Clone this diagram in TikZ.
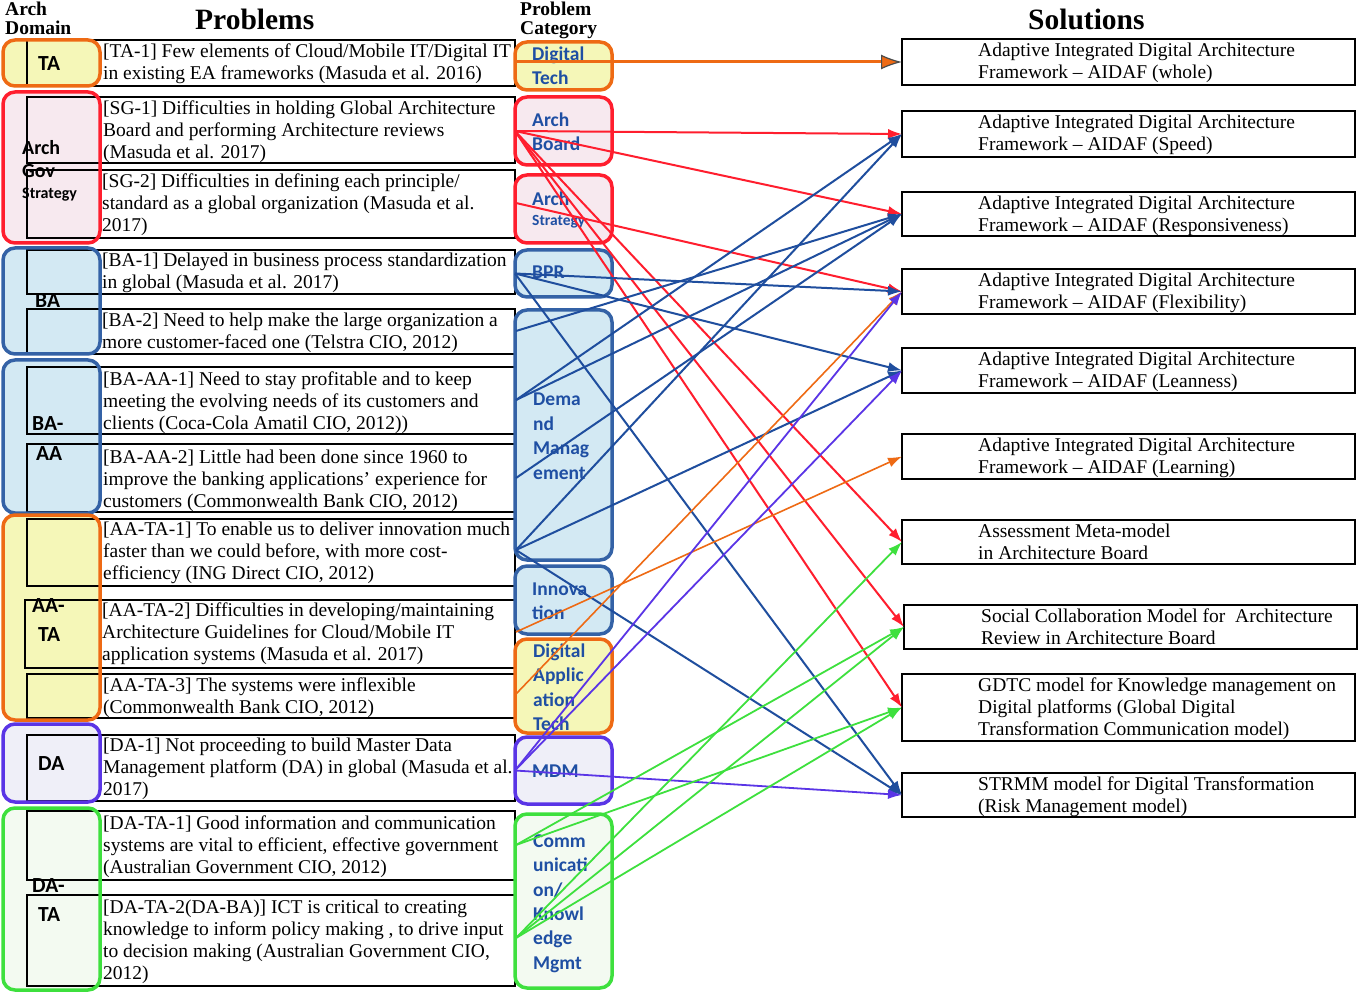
\documentclass[tikz,border=0pt]{standalone}
\usepackage{fontspec}
\setmainfont{Liberation Serif}
\newfontfamily\calib{Carlito}
\usetikzlibrary{arrows.meta}
\definecolor{cOrange}{HTML}{EE6A14}
\definecolor{cRed}{HTML}{FF1E2E}
\definecolor{cBlueB}{HTML}{3462A6}
\definecolor{cBlueL}{HTML}{1F4E9E}
\definecolor{cLBlue}{HTML}{D3E9F3}
\definecolor{cYellow}{HTML}{F5F7B8}
\definecolor{cPink}{HTML}{F7E9EF}
\definecolor{cPurple}{HTML}{5A35E6}
\definecolor{cLav}{HTML}{EFEFF8}
\definecolor{cGreen}{HTML}{3EE03E}
\definecolor{cLGreen}{HTML}{F3FAF1}
\definecolor{cTxtBlue}{HTML}{1F4FA3}
\tikzset{
  dom/.style={rounded corners=12pt, inner sep=0pt, outer sep=0pt, anchor=north west, minimum width=97pt},
  probbox/.style={draw=black, line width=1.8pt, inner sep=0pt, outer sep=0pt, anchor=north west, minimum width=488pt},
  catbox/.style={rounded corners=12pt, line width=3.5pt, inner sep=0pt, outer sep=0pt, anchor=north west, minimum width=97pt},
  solbox/.style={draw=black, line width=2.2pt, inner sep=0pt, outer sep=0pt, anchor=north west, minimum width=453pt},
  ptxt/.style={anchor=base west, inner sep=0pt, font=\fontsize{19.5}{22}\selectfont},
  ctxt/.style={anchor=base west, inner sep=0pt, text=cTxtBlue, font=\calib\bfseries\fontsize{19.5}{24}\selectfont},
  dtxt/.style={anchor=base west, inner sep=0pt, font=\calib\bfseries\fontsize{21.5}{24}\selectfont},
  htxt/.style={anchor=base west, inner sep=0pt, font=\bfseries\fontsize{19.5}{20}\selectfont},
  bigh/.style={anchor=base west, inner sep=0pt, font=\bfseries\fontsize{29.5}{30}\selectfont},
  conn/.style={line width=2pt, -{Latex[length=14pt,width=10pt]}},
  cred/.style={conn, draw=cRed, fill=cRed},
  cblue/.style={conn, draw=cBlueL, fill=cBlueL},
  corange/.style={conn, line width=1.6pt, draw=cOrange, fill=cOrange},
  cpurple/.style={conn, line width=1.8pt, draw=cPurple, fill=cPurple},
  cgreen/.style={conn, line width=1.8pt, draw=cGreen, fill=cGreen},
}
\begin{document}
\begin{tikzpicture}[x=1pt,y=-1pt]
\useasboundingbox (0,0) rectangle (1358,992);
\fill[white] (0,0) rectangle (1358,992);

% headers
\node[htxt] (hA1) at (5,16) {Arch};
\node[htxt] (hA2) at (5,35) {Domain};
\node[bigh] (hP) at (195,30) {Problems};
\node[htxt] (hC1) at (520,16) {Problem};
\node[htxt] (hC2) at (520,35) {Category};
\node[bigh] (hS) at (1028,30) {Solutions};

% arch domain fills
\node[dom, fill=cYellow, minimum height=46pt] (dTA) at (3,40) {};
\node[dom, fill=cPink, minimum height=151pt] (dSG) at (3,92) {};
\node[dom, fill=cLBlue, minimum height=106pt] (dBA) at (3,248) {};
\node[dom, fill=cLBlue, minimum height=153pt] (dBAAA) at (3,360) {};
\node[dom, fill=cYellow, minimum height=205pt] (dAATA) at (3,515) {};
\node[dom, fill=cLav, minimum height=78pt] (dDA) at (3,724) {};
\node[dom, fill=cLGreen, minimum height=182pt] (dDATA) at (3,808) {};

% problem rectangles
\node[probbox, minimum height=46pt] (p1) at (27,40) {};
\node[probbox, minimum height=66pt] (p2) at (27,97) {};
\node[probbox, minimum height=68pt] (p3) at (27,170) {};
\node[probbox, minimum height=44pt] (p4) at (27,250) {};
\node[probbox, minimum height=45pt] (p5) at (27,309) {};
\node[probbox, minimum height=67pt] (p6) at (27,367) {};
\node[probbox, minimum height=68pt] (p7) at (27,444) {};
\node[probbox, minimum height=67pt] (p8) at (27,519) {};
\node[probbox, minimum height=68pt, minimum width=490pt] (p9) at (25,600) {};
\node[probbox, minimum height=44pt] (p10) at (27,674) {};
\node[probbox, minimum height=66pt] (p11) at (27,735) {};
\node[probbox, minimum height=69pt] (p12) at (27,811) {};
\node[probbox, minimum height=91pt] (p13) at (27,895) {};

% arch domain borders
\draw[rounded corners=12pt, line width=3.5pt, cOrange] (dTA.north west) rectangle (dTA.south east);
\draw[rounded corners=12pt, line width=3.5pt, cRed] (dSG.north west) rectangle (dSG.south east);
\draw[rounded corners=12pt, line width=3.5pt, cBlueB] (dBA.north west) rectangle (dBA.south east);
\draw[rounded corners=12pt, line width=3.5pt, cBlueB] (dBAAA.north west) rectangle (dBAAA.south east);
\draw[rounded corners=12pt, line width=3.5pt, cOrange] (dAATA.north west) rectangle (dAATA.south east);
\draw[rounded corners=12pt, line width=3.5pt, cPurple] (dDA.north west) rectangle (dDA.south east);
\draw[rounded corners=12pt, line width=3.5pt, cGreen] (dDATA.north west) rectangle (dDATA.south east);

% arch domain labels
\node[dtxt] (lTA) at (38,71) {TA};
\node[dtxt, font=\calib\bfseries\fontsize{20}{24}\selectfont] (lSG1) at (22,155) {Arch};
\node[dtxt, font=\calib\bfseries\fontsize{20}{24}\selectfont] (lSG2) at (22,178) {Gov};
\node[dtxt, font=\calib\bfseries\fontsize{16}{20}\selectfont] (lSG3) at (22,199) {Strategy};
\node[dtxt] (lBA) at (35,308) {BA};
\node[dtxt] (lBAAA1) at (32,430) {BA-};
\node[dtxt] (lBAAA2) at (36,460) {AA};
\node[dtxt] (lAATA1) at (32,612) {AA-};
\node[dtxt] (lAATA2) at (38,641) {TA};
\node[dtxt] (lDA) at (38,770) {DA};
\node[dtxt] (lDATA1) at (32,892) {DA-};
\node[dtxt] (lDATA2) at (38,921) {TA};

% problem texts
\node[ptxt] (t1a) at (103,57.5) {[TA-1] Few elements of Cloud/Mobile IT/Digital IT};
\node[ptxt] (t1b) at (103,79.5) {in existing EA frameworks (Masuda et al. 2016)};
\node[ptxt] (t2a) at (103,114.5) {[SG-1] Difficulties in holding Global Architecture};
\node[ptxt] (t2b) at (103,136.5) {Board and performing Architecture reviews};
\node[ptxt] (t2c) at (103,158.5) {(Masuda et al. 2017)};
\node[ptxt] (t3a) at (102,187.5) {[SG-2] Difficulties in defining each principle/};
\node[ptxt] (t3b) at (102,209.5) {standard as a global organization (Masuda et al.};
\node[ptxt] (t3c) at (102,231.5) {2017)};
\node[ptxt] (t4a) at (102,266.5) {[BA-1] Delayed in business process standardization};
\node[ptxt] (t4b) at (102,288.5) {in global (Masuda et al. 2017)};
\node[ptxt] (t5a) at (102,326.5) {[BA-2] Need to help make the large organization a};
\node[ptxt] (t5b) at (102,348.5) {more customer-faced one (Telstra CIO, 2012)};
\node[ptxt] (t6a) at (103,385.5) {[BA-AA-1] Need to stay profitable and to keep};
\node[ptxt] (t6b) at (103,407.5) {meeting the evolving needs of its customers and};
\node[ptxt] (t6c) at (103,429.5) {clients (Coca-Cola Amatil CIO, 2012))};
\node[ptxt] (t7a) at (103,463.5) {[BA-AA-2] Little had been done since 1960 to};
\node[ptxt] (t7b) at (103,485.5) {improve the banking applications' experience for};
\node[ptxt] (t7c) at (103,507.5) {customers (Commonwealth Bank CIO, 2012)};
\node[ptxt] (t8a) at (103,535.5) {[AA-TA-1] To enable us to deliver innovation much};
\node[ptxt] (t8b) at (103,557.5) {faster than we could before, with more cost-};
\node[ptxt] (t8c) at (103,579.5) {efficiency (ING Direct CIO, 2012)};
\node[ptxt] (t9a) at (102,616.5) {[AA-TA-2] Difficulties in developing/maintaining};
\node[ptxt] (t9b) at (102,638.5) {Architecture Guidelines for Cloud/Mobile IT};
\node[ptxt] (t9c) at (102,660.5) {application systems (Masuda et al. 2017)};
\node[ptxt] (t10a) at (103,691.5) {[AA-TA-3] The systems were inflexible};
\node[ptxt] (t10b) at (103,713.5) {(Commonwealth Bank CIO, 2012)};
\node[ptxt] (t11a) at (103,751.5) {[DA-1] Not proceeding to build Master Data};
\node[ptxt] (t11b) at (103,773.5) {Management platform (DA) in global (Masuda et al.};
\node[ptxt] (t11c) at (103,795.5) {2017)};
\node[ptxt] (t12a) at (103,829.5) {[DA-TA-1] Good information and communication};
\node[ptxt] (t12b) at (103,851.5) {systems are vital to efficient, effective government};
\node[ptxt] (t12c) at (103,873.5) {(Australian Government CIO, 2012)};
\node[ptxt] (t13a) at (103,913.5) {[DA-TA-2(DA-BA)] ICT is critical to creating};
\node[ptxt] (t13b) at (103,935.5) {knowledge to inform policy making , to drive input};
\node[ptxt] (t13c) at (103,957.5) {to decision making (Australian Government CIO,};
\node[ptxt] (t13d) at (103,979.5) {2012)};

% category boxes
\node[catbox, draw=cOrange, fill=cYellow, minimum height=48pt] (cDT) at (515,42) {};
\node[catbox, draw=cRed, fill=cPink, minimum height=68pt] (cAB) at (515,97) {};
\node[catbox, draw=cRed, fill=cPink, minimum height=68pt] (cAS) at (515,175) {};
\node[catbox, draw=cBlueB, fill=cLBlue, minimum height=47pt] (cBPR) at (515,250) {};
\node[catbox, draw=cBlueB, fill=cLBlue, minimum height=250pt] (cDM) at (515,310) {};
\node[catbox, draw=cBlueB, fill=cLBlue, minimum height=68pt] (cIN) at (515,566) {};
\node[catbox, draw=cOrange, fill=cYellow, minimum height=94pt] (cDAT) at (515,639) {};
\node[catbox, draw=cPurple, fill=cLav, minimum height=67pt] (cMDM) at (515,737) {};
\node[catbox, draw=cGreen, fill=cLGreen, minimum height=174pt] (cCK) at (515,814) {};

% category texts
\node[ctxt] (k1a) at (532,61) {Digital};
\node[ctxt] (k1b) at (532,85) {Tech};
\node[ctxt] (k2a) at (532,127) {Arch};
\node[ctxt] (k2b) at (532,151) {Board};
\node[ctxt] (k3a) at (532,206) {Arch};
\node[ctxt, font=\calib\bfseries\fontsize{15.5}{20}\selectfont] (k3b) at (532,226) {Strategy};
\node[ctxt] (k4) at (532,279) {BPR};
\node[ctxt] (k5a) at (533,406) {Dema};
\node[ctxt] (k5b) at (533,430) {nd};
\node[ctxt] (k5c) at (533,454) {Manag};
\node[ctxt] (k5d) at (533,479) {ement};
\node[ctxt] (k6a) at (532,595) {Innova};
\node[ctxt] (k6b) at (532,619) {tion};
\node[ctxt] (k7a) at (533,657) {Digital};
\node[ctxt] (k7b) at (533,681) {Applic};
\node[ctxt] (k7c) at (533,706) {ation};
\node[ctxt] (k7d) at (533,730) {Tech};
\node[ctxt] (k8) at (532,777) {MDM};
\node[ctxt] (k9a) at (533,847) {Comm};
\node[ctxt] (k9b) at (533,871) {unicati};
\node[ctxt] (k9c) at (533,896) {on/};
\node[ctxt] (k9d) at (533,920) {Knowl};
\node[ctxt] (k9e) at (533,944) {edge};
\node[ctxt] (k9f) at (533,969) {Mgmt};

% solution boxes
\node[solbox, minimum height=46pt] (s1) at (902,39) {};
\node[solbox, minimum height=46pt] (s2) at (902,111) {};
\node[solbox, minimum height=44pt] (s3) at (902,192) {};
\node[solbox, minimum height=45pt] (s4) at (902,269) {};
\node[solbox, minimum height=45pt] (s5) at (902,348) {};
\node[solbox, minimum height=45pt] (s6) at (902,434) {};
\node[solbox, minimum height=44pt] (s7) at (902,520) {};
\node[solbox, minimum height=44pt] (s8) at (904,605) {};
\node[solbox, minimum height=67pt] (s9) at (902,674) {};
\node[solbox, minimum height=44pt] (s10) at (902,773) {};

% solution texts
\node[ptxt] (u1a) at (978,56.5) {Adaptive Integrated Digital Architecture};
\node[ptxt] (u1b) at (978,78.5) {Framework -- AIDAF (whole)};
\node[ptxt] (u2a) at (978,128.5) {Adaptive Integrated Digital Architecture};
\node[ptxt] (u2b) at (978,150.5) {Framework -- AIDAF (Speed)};
\node[ptxt] (u3a) at (978,209.5) {Adaptive Integrated Digital Architecture};
\node[ptxt] (u3b) at (978,231.5) {Framework -- AIDAF (Responsiveness)};
\node[ptxt] (u4a) at (978,286.5) {Adaptive Integrated Digital Architecture};
\node[ptxt] (u4b) at (978,308.5) {Framework -- AIDAF (Flexibility)};
\node[ptxt] (u5a) at (978,365.5) {Adaptive Integrated Digital Architecture};
\node[ptxt] (u5b) at (978,387.5) {Framework -- AIDAF (Leanness)};
\node[ptxt] (u6a) at (978,451.5) {Adaptive Integrated Digital Architecture};
\node[ptxt] (u6b) at (978,473.5) {Framework -- AIDAF (Learning)};
\node[ptxt] (u7a) at (978,537.5) {Assessment Meta-model};
\node[ptxt] (u7b) at (978,559.5) {in Architecture Board};
\node[ptxt] (u8a) at (981,622.5) {Social Collaboration Model for\ \ Architecture};
\node[ptxt] (u8b) at (981,644.5) {Review in Architecture Board};
\node[ptxt] (u9a) at (978,691.5) {GDTC model for Knowledge management on};
\node[ptxt] (u9b) at (978,713.5) {Digital platforms (Global Digital};
\node[ptxt] (u9c) at (978,735.5) {Transformation Communication model)};
\node[ptxt] (u10a) at (978,790.5) {STRMM model for Digital Transformation};
\node[ptxt] (u10b) at (978,812.5) {(Risk Management model)};

% connector origins
\coordinate (oAS) at (516,203);
\coordinate (oD1) at (516,331);
\coordinate (oD2) at (516,400);
\coordinate (oD3) at (516,478);
\coordinate (oD4) at (516,550);
\coordinate (oIN) at (516,632);
\coordinate (oDAT) at (516,694);
\coordinate (oC1) at (516,845);
\coordinate (oC2) at (516,938);

% connectors
\draw[line width=3pt, cOrange, -{Latex[length=21pt,width=15pt,line width=1.2pt,fill=cOrange,color=black!70]}] (cDT.west |- s1.west) -- (s1.west);
\foreach \t in {s2,s3,s7,s8,s9} \draw[cred] (cAB.west) -- (\t.west);
\draw[cred] (oAS) -- (s4.west);
\foreach \t in {s4,s5,s10} \draw[cblue] (cBPR.west) -- (\t.west);
\draw[cblue] (oD1) -- (s3.west);
\foreach \t in {s2,s3} \draw[cblue] (oD2) -- (\t.west);
\draw[cblue] (oD3) -- (s3.west);
\foreach \t in {s2,s5,s10} \draw[cblue] (oD4) -- (\t.west);
\draw[corange] (oIN) -- (s6.west);
\draw[corange] (oDAT) -- (s4.west);
\foreach \t in {s10,s4,s5} \draw[cpurple] (cMDM.west) -- (\t.west);
\foreach \t in {s8,s9} \draw[cgreen] (oC1) -- (\t.west);
\foreach \t in {s7,s8,s9} \draw[cgreen] (oC2) -- (\t.west);
\end{tikzpicture}
\end{document}
